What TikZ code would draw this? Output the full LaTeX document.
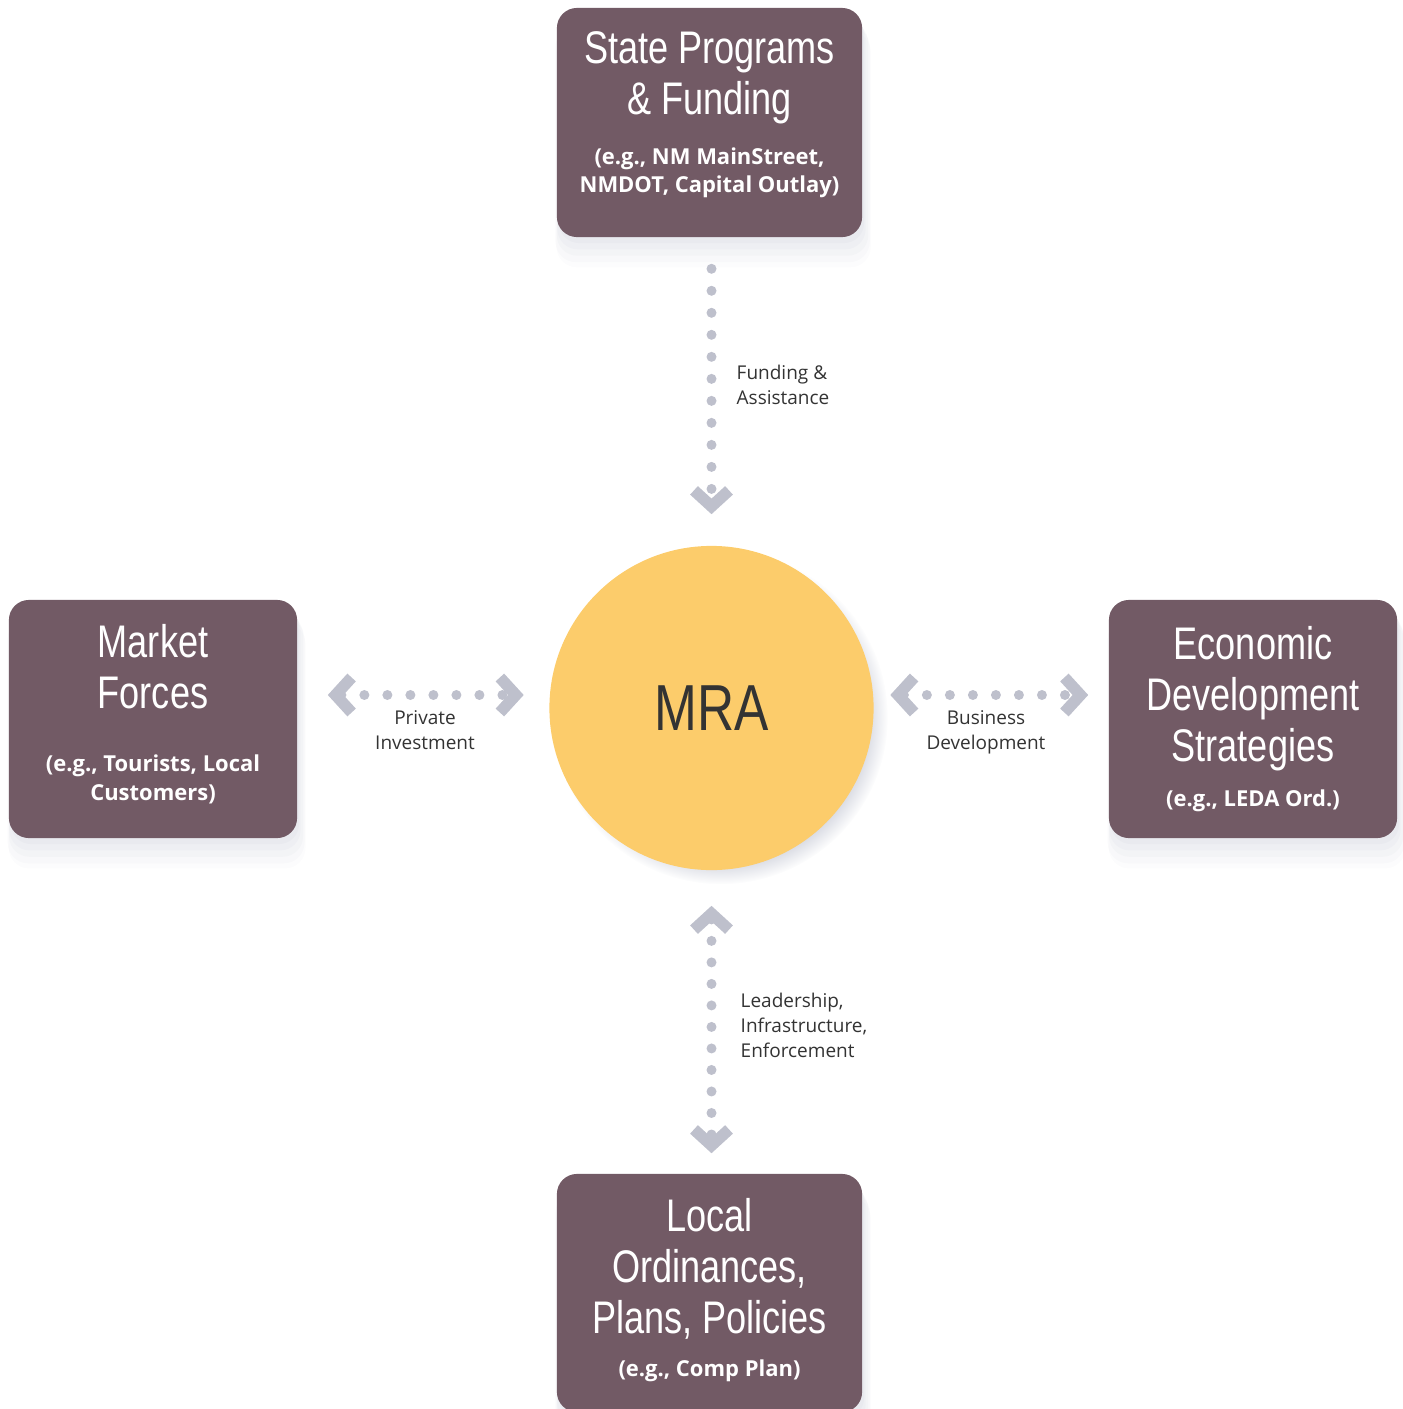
\documentclass[tikz,border=0pt]{standalone}
\usepackage{fontspec}
\setmainfont{Open Sans}
\newfontfamily\headfont[FakeStretch=0.79]{Liberation Sans}
\usetikzlibrary{arrows.meta,shadows,positioning}
\definecolor{boxplum}{RGB}{114,90,101}
\definecolor{hubgold}{RGB}{252,204,107}
\definecolor{dotgrey}{RGB}{190,192,204}
\definecolor{inkgrey}{RGB}{51,51,51}
\definecolor{shadegrey}{RGB}{150,156,178}
\newcommand{\boxhead}[1]{{\headfont\fontsize{13}{14.5}\selectfont #1\par}}
\newcommand{\boxnote}[3][6pt]{\vspace{#1}{\bfseries\fontsize{6.25}{8}\selectfont #2\par}\vspace{#3}}
\tikzset{
  chev/.tip={Straight Barb[length=1.6mm,width=3.5mm,line width'=1.15mm,sep=-0.6mm]},
  softshade/.style={
      drop shadow={shadow xshift=0.2mm,shadow yshift=-0.6mm,opacity=.05,fill=shadegrey},
      drop shadow={shadow xshift=0.2mm,shadow yshift=-1.1mm,shadow scale=1.01,opacity=.05,fill=shadegrey},
      drop shadow={shadow xshift=0.3mm,shadow yshift=-1.6mm,shadow scale=1.02,opacity=.05,fill=shadegrey},
      drop shadow={shadow xshift=0.3mm,shadow yshift=-2.1mm,shadow scale=1.03,opacity=.04,fill=shadegrey},
      drop shadow={shadow xshift=0.4mm,shadow yshift=-2.6mm,shadow scale=1.03,opacity=.03,fill=shadegrey}
  },
  agency/.style={
      rectangle,
      rounded corners=2mm,
      inner sep=0pt,
      minimum width=28.8mm,
      minimum height=23.8mm,
      text width=27.5mm,
      align=flush center,
      fill=boxplum,
      text=white,
      softshade
  },
  hub/.style={
      circle,
      inner sep=0pt,
      minimum size=32.4mm,
      fill=hubgold,
      text=inkgrey,
      font=\headfont\fontsize{18.5}{20}\selectfont,
      circular drop shadow={shadow xshift=0.9mm,shadow yshift=-0.9mm,shadow scale=1.03,opacity=.45,fill=shadegrey}
  },
  flow/.style={
      draw=dotgrey,
      line width=1mm,
      line cap=round,
      dash pattern=on 0pt off 2.2mm
  },
  flowlabel/.style={
      inner sep=0pt,
      text=inkgrey,
      font=\fontsize{5.4}{7.1}\selectfont
  }
}
\begin{document}
\begin{tikzpicture}[x=0.01cm,y=-0.01cm]
    \useasboundingbox (0,0) rectangle (1403,1409);
    \clip (0,0) rectangle (1403,1409);
    \node[hub] (mra) at (711.5,708) {MRA};
    \node[agency,minimum width=30.5mm,minimum height=22.9mm] (state) at (709.5,122.5)
      {\boxhead{State Programs\\ \& Funding}\boxnote[6.2pt]{(e.g., NM MainStreet,\\ NMDOT, Capital Outlay)}{1.6mm}};
    \node[agency] (market) at (153,719)
      {\boxhead{Market\\ Forces}\boxnote[10pt]{(e.g., Tourists, Local\\ Customers)}{1mm}};
    \node[agency] (econ) at (1253,719)
      {\boxhead{Economic\\ Development\\ Strategies}\boxnote[4.6pt]{(e.g., LEDA Ord.)}{0mm}};
    \node[agency,minimum width=30.5mm] (local) at (709.5,1293)
      {\boxhead{Local\\ Ordinances,\\ Plans, Policies}\boxnote[4.4pt]{(e.g., Comp Plan)}{0.6mm}};
    \draw[flow,-{chev},shorten <=3.1mm,shorten >=3.7mm] (state.south -| mra) -- (mra);
    \draw[flow,{chev}-{chev},dash pattern=on 0pt off 2.3mm,shorten <=3.6mm,shorten >=3.1mm]
      ([yshift=2.4mm]market.east) -- ([yshift=1.3mm]mra.west);
    \draw[flow,{chev}-{chev},dash pattern=on 0pt off 2.3mm,shorten <=2.2mm,shorten >=2.6mm]
      ([yshift=1.3mm]mra.east) -- ([yshift=2.4mm]econ.west);
    \draw[flow,{chev}-{chev},dash pattern=on 0pt off 2.15mm,shorten <=4.1mm,shorten >=2.6mm]
      (mra) -- (local.north -| mra);
    \node[flowlabel,anchor=west,align=left] (fundlbl) at (736,385) {Funding \&\\Assistance};
    \node[flowlabel,align=center] (privlbl) at (425,730) {Private\\Investment};
    \node[flowlabel,align=center] (buslbl) at (986,732) {Business\\Development};
    \node[flowlabel,anchor=west,align=left] (leadlbl) at (740,1025) {Leadership,\\Infrastructure,\\Enforcement};
\end{tikzpicture}
\end{document}
